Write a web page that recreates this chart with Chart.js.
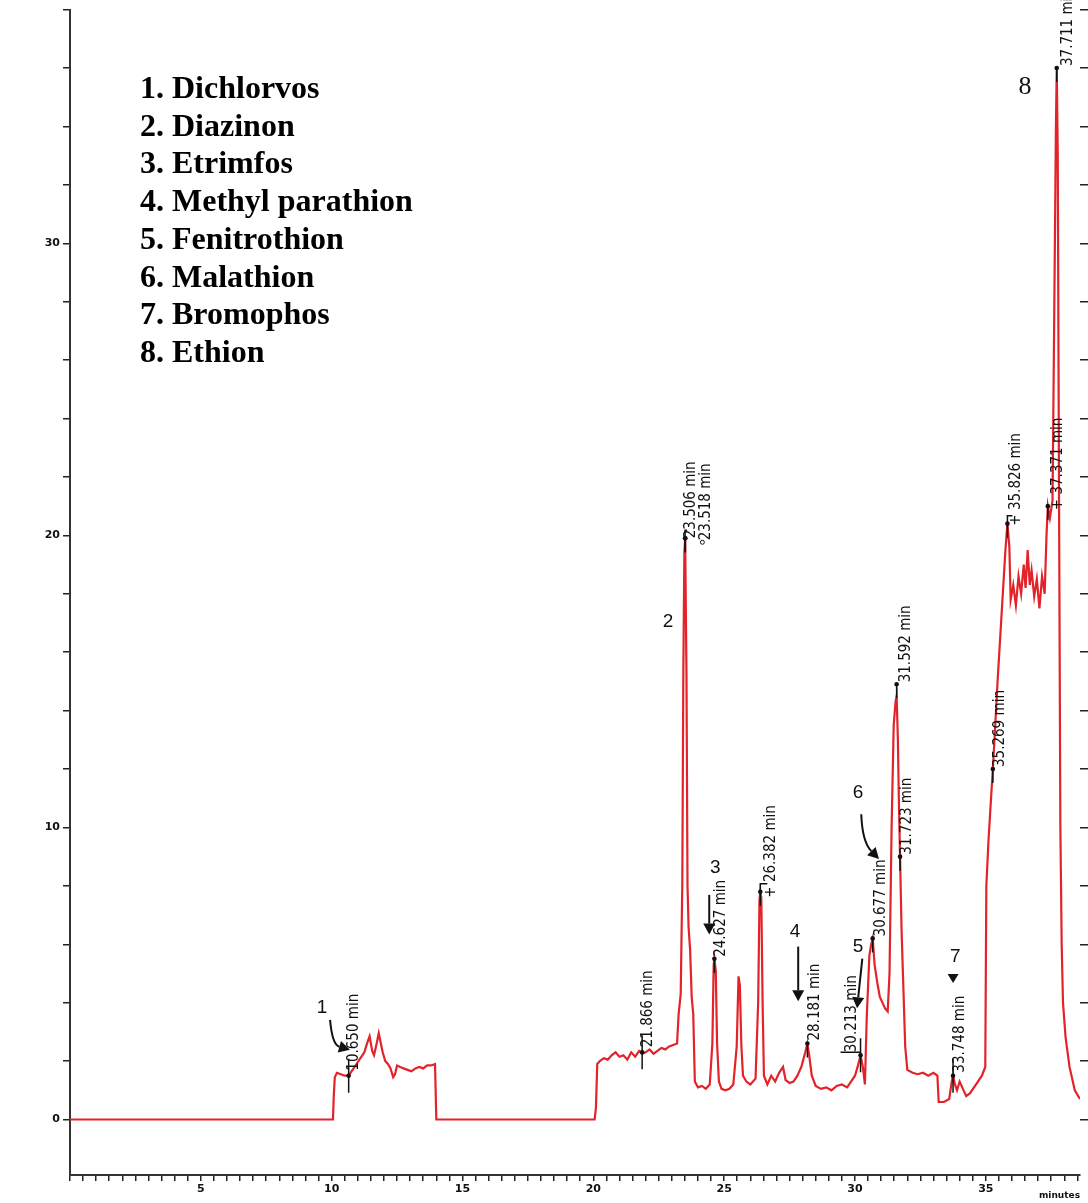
<!DOCTYPE html>
<html>
<head>
<meta charset="utf-8">
<script src="https://cdn.jsdelivr.net/npm/chart.js@4.4.1/dist/chart.umd.min.js"></script>
<style>
  html, body { margin: 0; padding: 0; background: #fff; }
  #wrap { position: relative; width: 1088px; height: 1203px; overflow: hidden; }
  #lista {
    position: absolute; left: 140px; top: 69px;
    font: bold 32px "Liberation Serif", "Times New Roman", serif;
    line-height: 37.7px; color: #000;
  }
</style>
</head>
<body>
<div id="wrap">
  <canvas id="cromatograma" width="1088" height="1203"></canvas>
  <div id="lista"></div>
</div>
<script>
// compuestos identificados
const compoundNames = ["Dichlorvos", "Diazinon", "Etrimfos", "Methyl parathion",
  "Fenitrothion", "Malathion", "Bromophos", "Ethion"];

// traza del cromatograma (minutos / señal)
const traceMinutes = [
  0, 10.05, 10.08, 10.12, 10.2, 10.35, 10.5, 10.65, 10.8, 10.95, 11.1, 11.25, 11.35, 11.45,
  11.55, 11.62, 11.72, 11.8, 11.88, 11.95, 12.05, 12.15, 12.25, 12.35, 12.42, 12.5, 12.62,
  12.75, 12.9, 13.05, 13.2, 13.35, 13.5, 13.65, 13.8, 13.95, 14.0,
  20.05, 20.1, 20.15, 20.25, 20.4, 20.55, 20.7, 20.85, 21.0, 21.15, 21.3, 21.45, 21.6, 21.75,
  21.866, 22.0, 22.15, 22.3, 22.45, 22.6, 22.75, 22.9, 23.05, 23.2,
  23.26, 23.34, 23.4, 23.44, 23.48, 23.51, 23.56, 23.6, 23.64, 23.7, 23.76, 23.82, 23.88,
  24.0, 24.15, 24.3, 24.45, 24.55, 24.6, 24.627, 24.68, 24.73, 24.8, 24.9, 25.05, 25.2, 25.35,
  25.48, 25.55, 25.6, 25.66, 25.72, 25.85, 26.0, 26.2, 26.3, 26.35, 26.382, 26.42, 26.47, 26.52,
  26.65, 26.8, 26.95, 27.1, 27.25, 27.35, 27.5, 27.65, 27.8, 27.95, 28.1, 28.181, 28.25, 28.35,
  28.5, 28.7, 28.9, 29.1, 29.3, 29.5, 29.7, 29.85, 30.0, 30.1, 30.213, 30.3, 30.38, 30.45,
  30.55, 30.62, 30.677, 30.75, 30.85, 30.95, 31.05, 31.15, 31.25, 31.32, 31.4, 31.48, 31.55,
  31.592, 31.64, 31.68, 31.723, 31.78, 31.85, 31.92, 32.0, 32.2, 32.4, 32.6, 32.8, 33.0,
  33.15, 33.2, 33.4, 33.6, 33.7, 33.748, 33.82, 33.9, 34.0, 34.1, 34.25, 34.4, 34.55, 34.7,
  34.85, 34.98, 35.02, 35.1, 35.2, 35.269, 35.35, 35.45, 35.55, 35.65, 35.75, 35.826, 35.9,
  35.95, 36.05, 36.15, 36.25, 36.35, 36.45, 36.52, 36.6, 36.68, 36.75, 36.85, 36.95, 37.05,
  37.15, 37.25, 37.32, 37.371, 37.45, 37.55, 37.62, 37.68, 37.711, 37.75, 37.8, 37.85, 37.9,
  37.95, 38.05, 38.2, 38.4, 38.6
];
const traceSignal = [
  0, 0, 0.8, 1.45, 1.6, 1.55, 1.5, 1.5, 1.7, 1.9, 2.1, 2.3, 2.6, 2.85,
  2.35, 2.2, 2.6, 2.95, 2.6, 2.3, 2.0, 1.9, 1.75, 1.45, 1.55, 1.85, 1.8,
  1.75, 1.7, 1.65, 1.75, 1.8, 1.75, 1.85, 1.85, 1.9, 0,
  0, 0.4, 1.9, 2.0, 2.1, 2.05, 2.2, 2.3, 2.15, 2.2, 2.05, 2.3, 2.15, 2.35,
  2.25, 2.3, 2.4, 2.25, 2.35, 2.45, 2.4, 2.5, 2.55, 2.6,
  3.6, 4.3, 8.0, 15.3, 19.4, 19.9, 15.3, 8.0, 6.6, 5.8, 4.2, 3.6, 1.3,
  1.1, 1.15, 1.05, 1.2, 2.6, 5.3, 5.5, 5.1, 2.6, 1.3, 1.05, 1.0, 1.05, 1.2,
  2.5, 4.9, 4.6, 2.5, 1.5, 1.3, 1.2, 1.4, 4.0, 7.5, 7.8, 7.6, 4.0, 1.5,
  1.2, 1.5, 1.3, 1.6, 1.8, 1.35, 1.25, 1.3, 1.5, 1.8, 2.3, 2.6, 2.2, 1.5,
  1.15, 1.05, 1.1, 1.0, 1.15, 1.2, 1.1, 1.3, 1.5, 1.8, 2.2, 1.8, 1.2, 3.5,
  5.6, 6.0, 6.2, 5.3, 4.7, 4.2, 4.0, 3.8, 3.7, 5.0, 10.0, 13.5, 14.3,
  14.5, 13.0, 10.8, 9.0, 6.5, 4.5, 2.5, 1.7, 1.6, 1.55, 1.6, 1.5, 1.6,
  1.5, 0.6, 0.6, 0.7, 1.3, 1.5, 1.2, 1.0, 1.3, 1.1, 0.8, 0.9, 1.1, 1.3,
  1.5, 1.8, 8.0, 9.5, 11.0, 12.0, 13.3, 15.0, 16.5, 18.0, 19.5, 20.4, 19.6,
  17.8, 18.3, 17.6, 18.6, 18.0, 19.0, 18.2, 19.5, 18.3, 18.8, 17.9, 18.5, 17.5,
  18.6, 18.0, 20.0, 21.0, 20.6, 21.2, 28.0, 34.0, 36.0, 33.0, 21.0, 10.0, 6.0,
  4.0, 2.8, 1.8, 1.0, 0.7
];

// tiempos de retención marcados
const peakTimes = [10.650, 21.866, 23.506, 23.518, 24.627, 26.382, 28.181, 30.213,
  30.677, 31.592, 31.723, 33.748, 35.269, 35.826, 37.371, 37.711];
const peakHeights = [1.5, 2.3, 19.9, 19.9, 5.5, 7.8, 2.6, 2.2,
  6.2, 14.9, 9.0, 1.5, 12.0, 20.4, 21.0, 36.0];
const peakTexts = ["10.650 min", "21.866 min", "23.506 min", "23.518 min", "24.627 min",
  "+ 26.382 min", "28.181 min", "30.213 min", "30.677 min", "31.592 min", "31.723 min",
  "33.748 min", "35.269 min", "+ 35.826 min", "+ 37.371 min", "37.711 min"];

document.getElementById("lista").innerHTML =
  compoundNames.map((n, i) => (i + 1) + ". " + n).join("<br>");

// estilo de cada marca (desplazamientos en px)
const markerStyle = [
  { dx: 5, dy: -5, cross: true },
  { dx: 6, dy: -5, cross: true },
  { dx: 6, dy: 0, bracket: true },
  { dx: 21, dy: 2, ring: true },
  { dx: 7, dy: -2 },
  { dx: 11, dy: 6, bracket: true },
  { dx: 8, dy: -3 },
  { dx: -8, dy: -3, cross: true, bar: -20 },
  { dx: 8, dy: -2 },
  { dx: 9, dy: -2 },
  { dx: 7, dy: -2 },
  { dx: 7, dy: -3, cross: true },
  { dx: 7, dy: -2 },
  { dx: 9, dy: 2, bracket: true },
  { dx: 10, dy: 4 },
  { dx: 11, dy: -2 }
];

// números de compuesto y flechas, en coordenadas del gráfico
const etiquetas = [
  { txt: "1", t: 9.63, v: 3.81 },
  { txt: "2", t: 22.86, v: 17.04 },
  { txt: "3", t: 24.66, v: 8.61 },
  { txt: "4", t: 27.71, v: 6.43 },
  { txt: "5", t: 30.12, v: 5.92 },
  { txt: "6", t: 30.12, v: 11.19 },
  { txt: "7", t: 33.83, v: 5.58 },
  { txt: "8", t: 36.5, v: 35.35, serif: true }
];
const flechas = [
  { from: [9.94, 3.41], ctrl: [10.02, 2.56], to: [10.7, 2.39] },
  { from: [24.43, 7.69], to: [24.43, 6.33] },
  { from: [27.83, 5.92], to: [27.83, 4.05] },
  { from: [30.28, 5.51], to: [30.08, 3.81] },
  { from: [30.24, 10.45], ctrl: [30.28, 9.5], to: [30.92, 8.92] }
];
const triangulo = { t: 33.75, v: 4.83 };

const anotaciones = {
  id: "anotaciones",
  afterDatasetsDraw(chart) {
    const { ctx, scales: { x, y } } = chart;
    const px = t => x.getPixelForValue(t);
    const py = v => y.getPixelForValue(v);
    ctx.save();
    ctx.strokeStyle = "#111";
    ctx.fillStyle = "#111";

    // marcas de integración y textos girados
    peakTimes.forEach((t, i) => {
      const s = markerStyle[i];
      const X = px(t), Y = py(peakHeights[i]);
      ctx.lineWidth = 1.5;
      ctx.beginPath();
      if (s.cross) { ctx.moveTo(X, Y - 17); ctx.lineTo(X, Y + 17); }
      else { ctx.moveTo(X, Y); ctx.lineTo(X, Y + 14); }
      if (s.bar) { ctx.moveTo(X, Y - 3); ctx.lineTo(X + s.bar, Y - 3); }
      if (s.bracket) { ctx.moveTo(X, Y); ctx.lineTo(X, Y - 8); ctx.lineTo(X + s.dx - 4, Y - 8); }
      ctx.stroke();
      ctx.beginPath(); ctx.arc(X, Y, 2.3, 0, Math.PI * 2); ctx.fill();
      if (s.ring) {
        ctx.lineWidth = 1;
        ctx.beginPath(); ctx.arc(X + s.dx - 4, Y + 4, 2, 0, Math.PI * 2); ctx.stroke();
      }
      ctx.save();
      ctx.translate(X + s.dx, Y + s.dy);
      ctx.rotate(-Math.PI / 2);
      ctx.font = '15px "Liberation Sans Narrow", "DejaVu Sans Condensed", sans-serif';
      ctx.textAlign = "left";
      ctx.textBaseline = "middle";
      ctx.fillText(peakTexts[i], 0, 0);
      ctx.restore();
    });

    // números
    ctx.textAlign = "center";
    ctx.textBaseline = "middle";
    etiquetas.forEach(e => {
      ctx.font = e.serif ? '26px "Liberation Serif", serif' : '19px "Liberation Sans", sans-serif';
      ctx.fillText(e.txt, px(e.t), py(e.v));
    });

    // flechas
    flechas.forEach(f => {
      const x0 = px(f.from[0]), y0 = py(f.from[1]);
      const x1 = px(f.to[0]), y1 = py(f.to[1]);
      const cx = f.ctrl ? px(f.ctrl[0]) : x0, cy = f.ctrl ? py(f.ctrl[1]) : y0;
      const ang = Math.atan2(y1 - cy, x1 - cx);
      const bx = x1 - 11 * Math.cos(ang), by = y1 - 11 * Math.sin(ang);
      ctx.lineWidth = 2;
      ctx.beginPath();
      ctx.moveTo(x0, y0);
      if (f.ctrl) ctx.quadraticCurveTo(cx, cy, bx, by); else ctx.lineTo(bx, by);
      ctx.stroke();
      ctx.beginPath();
      ctx.moveTo(x1, y1);
      ctx.lineTo(bx + 6 * Math.sin(ang), by - 6 * Math.cos(ang));
      ctx.lineTo(bx - 6 * Math.sin(ang), by + 6 * Math.cos(ang));
      ctx.closePath();
      ctx.fill();
    });

    // triángulo del 7
    const tx = px(triangulo.t), ty = py(triangulo.v);
    ctx.beginPath();
    ctx.moveTo(tx - 5.5, ty - 4.5);
    ctx.lineTo(tx + 5.5, ty - 4.5);
    ctx.lineTo(tx, ty + 4.5);
    ctx.closePath();
    ctx.fill();
    ctx.restore();
  }
};

const tickFont = { size: 11, weight: "bold", family: "DejaVu Sans" };

new Chart(document.getElementById("cromatograma").getContext("2d"), {
  type: "line",
  data: {
    datasets: [{
      data: traceMinutes.map((t, i) => ({ x: t, y: traceSignal[i] })),
      borderColor: "#e3222a",
      borderWidth: 2.2,
      pointRadius: 0,
      tension: 0,
      fill: false
    }]
  },
  options: {
    responsive: false,
    animation: false,
    layout: { padding: { top: 2, left: 0, right: 0, bottom: 0 } },
    plugins: { legend: { display: false }, tooltip: { enabled: false } },
    scales: {
      x: {
        type: "linear", min: 0, max: 38.6, position: "bottom",
        grid: { drawOnChartArea: false, tickLength: 6, color: "#222", lineWidth: 1.5 },
        border: { color: "#333", width: 2 },
        ticks: {
          stepSize: 0.5, autoSkip: false, maxRotation: 0, includeBounds: false,
          padding: 2, color: "#111", font: tickFont,
          callback: v => (v > 0 && v % 5 === 0) ? String(v) : ""
        },
        title: {
          display: true, text: "minutes", align: "end", color: "#111",
          font: { size: 9, weight: "bold", family: "DejaVu Sans" }, padding: { top: 0, bottom: 2 }
        },
        afterFit: s => { s.height = 28; }
      },
      y: {
        min: -1.9, max: 38, position: "left",
        grid: { drawOnChartArea: false, tickLength: 7, color: "#222", lineWidth: 1.5 },
        border: { color: "#333", width: 2 },
        ticks: {
          stepSize: 2, includeBounds: false, padding: 3, color: "#111", font: tickFont,
          callback: v => v % 10 === 0 ? String(v) : ""
        },
        afterFit: s => { s.width = 70; }
      },
      y2: {
        min: -1.9, max: 38, position: "right",
        grid: { drawOnChartArea: false, tickLength: 8, color: "#222", lineWidth: 1.5 },
        border: { display: false },
        ticks: { display: false, stepSize: 2, includeBounds: false },
        afterFit: s => { s.width = 8; }
      }
    }
  },
  plugins: [anotaciones]
});
</script>
</body>
</html>
